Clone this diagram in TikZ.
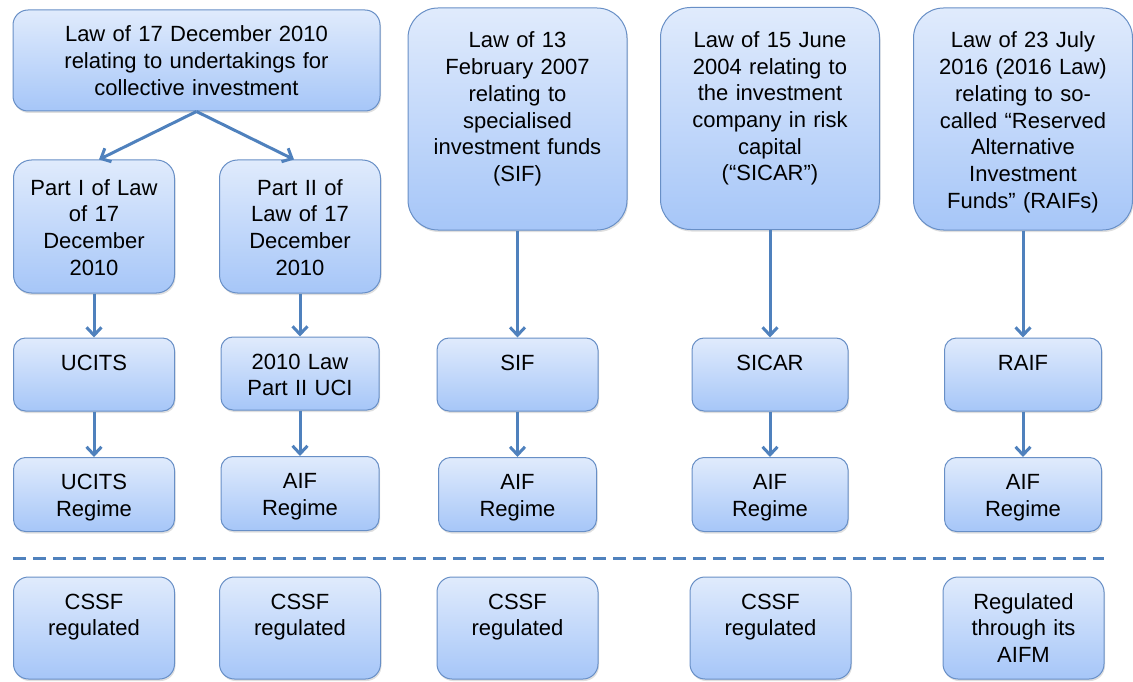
\documentclass[tikz,border=0pt]{standalone}
\usepackage{fontspec}
\setmainfont{Liberation Sans}
\usetikzlibrary{arrows.meta,shadows}
\definecolor{boxtop}{RGB}{224,235,252}
\definecolor{boxbot}{RGB}{166,198,248}
\definecolor{boxline}{RGB}{104,143,198}
\definecolor{linkblue}{RGB}{79,129,189}
\tikzset{
  box/.style={draw=boxline, line width=1pt, top color=boxtop, bottom color=boxbot,
    rounded corners=12pt, align=center, font=\fontsize{22}{26.7}\selectfont,
    inner xsep=5pt, inner ysep=6pt, text height=26pt,
    drop shadow={shadow xshift=1pt, shadow yshift=-2pt, opacity=0.25}},
  lawbox/.style={box, rounded corners=30pt, text width=209pt, text height=34pt, text depth=176pt},
  partbox/.style={box, rounded corners=18pt, text width=151pt, text height=29pt, text depth=92pt},
  vehbox/.style={box, text width=148pt, text depth=35pt},
  regbox/.style={box, text width=148pt, text depth=36pt},
  supbox/.style={box, rounded corners=15pt, text width=151pt, text depth=64pt},
  link/.style={draw=linkblue, line width=3pt, -{Straight Barb[length=8pt,width=15pt]}},
}
\begin{document}
\begin{tikzpicture}[x=1pt, y=-1pt]
    \useasboundingbox (0,0) rectangle (1133,682);

    % Laws
    \node[box, rounded corners=15pt, text width=357pt, text depth=63pt] (law2010) at (196.5,60.5)
      {Law of 17 December 2010\\relating to undertakings for\\collective investment};
    \node[partbox] (part1) at (94,226.5) {Part I of Law\\of 17\\December\\2010};
    \node[partbox] (part2) at (300,226.5) {Part II of\\Law of 17\\December\\2010};
    \node[lawbox] (lawsif) at (517.5,119) {Law of 13\\February 2007\\relating to\\specialised\\investment funds\\(SIF)};
    \node[lawbox] (lawsicar) at (770,118.5) {Law of 15 June\\2004 relating to\\the investment\\company in risk\\capital\\(“SICAR”)};
    \node[lawbox] (lawraif) at (1023,119) {Law of 23 July\\2016 (2016 Law)\\relating to so-\\called “Reserved\\Alternative\\Investment\\Funds” (RAIFs)};

    % Vehicles
    \node[vehbox, text width=151pt] (ucits) at (94,374.5) {UCITS};
    \node[vehbox] (uci) at (300,373.5) {2010 Law\\Part II UCI};
    \node[vehbox, text width=151pt] (sif) at (517.5,374.5) {SIF};
    \node[vehbox, text width=146pt] (sicar) at (770,374.5) {SICAR};
    \node[vehbox, text width=147pt] (raif) at (1023,374.5) {RAIF};

    % Regimes
    \node[regbox, text width=151pt] (ucitsreg) at (94,494.5) {UCITS\\Regime};
    \node[regbox] (aifuci) at (300,493.5) {AIF\\Regime};
    \node[regbox] (aifsif) at (517.5,494.5) {AIF\\Regime};
    \node[regbox, text width=146pt] (aifsicar) at (770,494.5) {AIF\\Regime};
    \node[regbox, text width=147pt] (aifraif) at (1023,494.5) {AIF\\Regime};

    % Separator
    \coordinate (sepL) at (13,558);
    \coordinate (sepR) at (1104,558);
    \draw[linkblue, line width=3pt, dash pattern=on 13pt off 7pt] (sepL) -- (sepR);

    % Supervision
    \node[supbox] (supucits) at (94,628) {CSSF\\regulated};
    \node[supbox] (supuci) at (300,628) {CSSF\\regulated};
    \node[supbox] (supsif) at (517.5,628) {CSSF\\regulated};
    \node[supbox] (supsicar) at (770.5,628) {CSSF\\regulated};
    \node[supbox] (supraif) at (1023.5,628) {Regulated\\through its\\AIFM};

    % Links
    \draw[link] (law2010.south) -- ([xshift=5pt]part1.north);
    \draw[link] (law2010.south) -- ([xshift=-6pt]part2.north);
    \draw[link] (part1) -- (ucits);
    \draw[link] (part2) -- (uci);
    \draw[link] (lawsif) -- (sif);
    \draw[link] (lawsicar) -- (sicar);
    \draw[link] (lawraif) -- (raif);
    \draw[link] (ucits) -- (ucitsreg);
    \draw[link] (uci) -- (aifuci);
    \draw[link] (sif) -- (aifsif);
    \draw[link] (sicar) -- (aifsicar);
    \draw[link] (raif) -- (aifraif);
\end{tikzpicture}
\end{document}
